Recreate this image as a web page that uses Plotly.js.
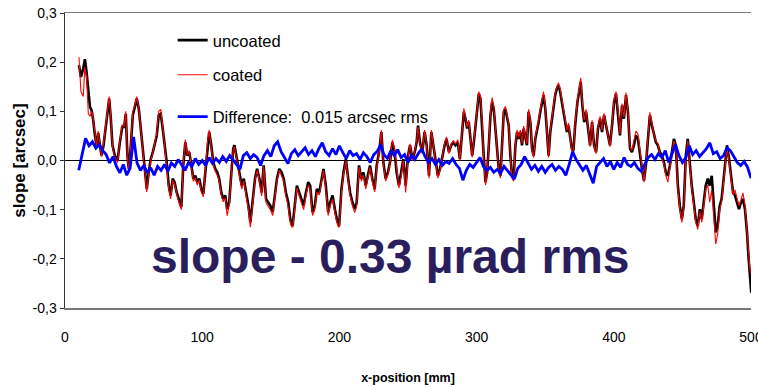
<!DOCTYPE html>
<html>
<head>
<meta charset="utf-8">
<script src="https://cdn.plot.ly/plotly-3.0.1.min.js"></script>
<style>
  html, body { margin: 0; padding: 0; background: #ffffff; }
  #chart { width: 758px; height: 387px; }
</style>
</head>
<body>
<div id="chart"></div>
<script>
// Mirror slope profile along the x-position, before and after coating (arcsec).
const xPos = [
  10.2,11.6,13.3,14.5,15.7,17.0,18.2,19.4,20.6,21.8,23.0,24.2,25.4,26.6,28.1,29.6,31.0,32.2,33.4,34.6,
  36.3,38.3,40.0,41.7,43.1,44.3,45.5,46.5,48.0,49.4,50.9,52.3,53.8,55.2,56.7,58.1,59.6,61.0,62.5,64.0,
  65.4,66.9,68.3,69.8,71.2,72.7,74.1,75.6,77.0,78.5,79.9,81.4,82.8,84.8,86.2,87.7,89.1,90.6,92.1,93.5,
  95.0,96.4,97.9,99.3,100.8,102.2,103.7,105.1,106.6,108.0,109.5,111.0,112.4,113.9,115.3,116.8,118.2,119.7,121.1,122.6,
  123.5,125.4,127.1,128.8,130.3,132.0,133.7,135.1,136.8,138.5,140.0,141.7,143.4,144.8,146.5,148.2,149.7,151.4,153.1,154.5,
  156.2,157.9,159.4,161.0,162.7,164.2,165.9,167.6,169.0,170.7,172.4,173.9,175.6,177.3,178.7,180.4,182.1,183.6,185.3,187.0,
  188.4,190.1,191.8,193.3,195.0,196.7,198.1,199.8,201.5,203.0,204.7,206.4,207.8,209.5,211.2,212.6,214.3,216.0,217.5,219.2,
  220.9,222.3,224.0,225.7,227.2,228.9,230.6,232.0,233.7,235.4,236.9,238.6,240.3,241.7,243.4,245.1,246.6,
  248.3,250.0,251.5,253.2,254.9,256.3,257.3,258.7,260.4,262.1,263.6,265.3,267.0,268.4,270.1,271.8,273.3,275.0,276.7,278.1,
  279.8,281.5,283.0,284.6,286.3,287.8,289.5,290.7,291.9,293.1,294.3,295.5,296.8,298.0,299.2,300.4,301.6,302.8,304.0,305.2,
  306.5,307.7,308.9,310.1,311.3,312.5,313.7,314.9,316.1,317.4,318.6,319.8,321.0,322.2,323.4,324.6,325.8,327.0,328.3,329.5,
  330.7,331.9,333.1,334.3,335.5,336.7,337.9,339.2,340.4,341.6,342.8,344.0,345.2,346.4,347.6,348.8,350.1,351.3,352.5,353.7,
  354.9,356.1,357.3,358.5,359.7,360.9,362.2,363.4,364.6,365.8,367.0,368.2,369.4,
  370.6,371.8,373.5,375.0,375.9,377.1,378.4,379.8,381.3,382.7,384.2,385.6,387.1,388.5,390.0,391.4,392.9,394.3,395.8,397.2,
  398.7,400.2,401.6,403.1,404.5,406.0,407.4,408.9,410.3,411.8,413.2,414.7,416.1,417.6,419.1,420.5,422.0,423.4,424.9,426.3,
  427.8,429.2,430.7,432.1,433.6,435.0,436.5,437.9,439.4,440.9,442.3,443.8,445.2,446.7,448.1,449.6,451.0,452.5,453.9,455.4,
  456.8,458.3,459.7,461.2,462.7,464.1,465.6,467.0,468.5,469.9,471.4,472.8,474.3,475.7,477.2,478.6,480.1,481.5,482.5,484.0,
  485.4,486.9,488.3,489.8,491.2,492.7,494.1,495.6,497.1,498.3,499.2,500.2
];

const uncoated = [
  0.194,0.170,0.187,0.206,0.180,0.133,0.109,0.102,0.082,0.051,0.031,0.056,0.031,0.010,0.031,0.071,0.105,0.126,0.085,0.031,
  0.010,0.000,0.037,0.068,0.068,0.095,0.010,-0.017,0.031,0.092,0.109,0.126,0.105,0.065,0.031,-0.010,-0.058,-0.024,0.003,0.017,
  0.031,0.051,0.092,0.095,0.065,0.031,-0.003,-0.051,-0.071,-0.037,-0.044,-0.065,-0.078,-0.095,-0.010,0.037,0.010,0.017,-0.010,-0.037,
  -0.031,-0.044,-0.037,-0.058,-0.068,-0.024,0.031,0.058,0.031,-0.003,-0.017,-0.024,-0.037,-0.065,-0.078,-0.071,-0.099,-0.085,-0.031,0.024,
  0.031,0.003,-0.024,-0.051,-0.037,-0.065,-0.092,-0.126,-0.078,-0.037,-0.017,-0.037,-0.065,-0.010,-0.078,-0.085,-0.092,-0.105,-0.065,-0.037,
  -0.017,-0.024,-0.037,-0.065,-0.085,-0.119,-0.133,-0.085,-0.051,-0.065,-0.078,-0.092,-0.065,-0.044,-0.051,-0.105,-0.092,-0.058,-0.065,-0.037,
  -0.017,-0.051,-0.105,-0.085,-0.071,-0.099,-0.119,-0.133,-0.058,-0.024,0.003,-0.037,-0.065,-0.085,-0.099,-0.085,-0.010,-0.037,-0.024,-0.051,
  -0.024,-0.010,-0.037,-0.058,-0.010,0.017,0.058,-0.003,-0.037,-0.024,-0.003,0.037,0.017,-0.024,-0.051,-0.024,0.003,
  -0.051,0.010,0.031,0.003,0.017,0.037,0.071,0.037,0.017,0.058,0.031,-0.031,0.058,0.031,-0.003,-0.031,-0.017,0.010,0.031,0.044,
  0.017,0.031,0.037,0.031,0.037,0.003,0.058,0.099,0.085,0.065,0.078,0.044,0.010,0.037,0.071,0.112,0.136,0.126,0.078,0.010,
  -0.044,-0.024,0.031,0.092,0.119,0.105,0.065,0.017,-0.017,-0.031,0.031,0.099,0.105,0.085,0.071,0.010,-0.031,-0.037,0.031,0.058,
  0.044,0.058,0.031,0.065,0.044,0.031,0.099,0.078,0.024,0.010,0.044,0.058,0.078,0.099,0.119,0.133,0.105,0.044,0.010,0.058,
  0.085,0.112,0.133,0.146,0.153,0.140,0.119,0.099,0.078,0.058,0.071,0.044,0.024,
  0.020,0.071,0.119,0.146,0.160,0.112,0.078,0.099,0.065,0.031,0.078,0.031,0.017,0.065,0.085,0.058,0.092,0.071,0.051,0.031,
  0.071,0.119,0.136,0.099,0.051,0.112,0.085,0.133,0.099,0.024,0.017,0.031,0.051,0.044,0.010,-0.017,-0.041,-0.010,0.044,0.092,
  0.071,0.051,0.037,0.031,0.017,0.010,-0.003,-0.024,-0.031,-0.010,0.017,0.044,0.031,-0.051,-0.092,-0.119,-0.092,0.010,0.044,-0.010,
  -0.051,-0.085,-0.119,-0.133,-0.099,-0.119,-0.078,-0.051,-0.037,-0.051,-0.031,-0.099,-0.146,-0.133,-0.092,-0.078,-0.037,0.010,0.031,0.003,
  -0.037,-0.065,-0.071,-0.085,-0.099,-0.085,-0.078,-0.099,-0.146,-0.201,-0.241,-0.269
];

const coated = [
  0.210,0.140,0.130,0.190,0.170,0.095,0.090,0.100,0.085,0.055,0.028,0.060,0.028,0.008,0.035,0.075,0.110,0.130,0.088,0.028,
  0.006,-0.004,0.040,0.072,0.070,0.100,0.006,-0.022,0.035,0.098,0.112,0.130,0.106,0.062,0.026,-0.014,-0.064,-0.028,0.000,0.015,
  0.034,0.058,0.100,0.104,0.070,0.028,-0.008,-0.058,-0.078,-0.040,-0.048,-0.070,-0.084,-0.100,-0.006,0.042,0.012,0.020,-0.014,-0.042,
  -0.036,-0.050,-0.040,-0.064,-0.074,-0.020,0.034,0.062,0.028,-0.008,-0.022,-0.030,-0.042,-0.070,-0.084,-0.076,-0.112,-0.090,-0.034,0.022,
  0.028,-0.002,-0.030,-0.058,-0.042,-0.072,-0.100,-0.136,-0.084,-0.040,-0.020,-0.042,-0.072,-0.012,-0.086,-0.094,-0.100,-0.112,-0.070,-0.040,
  -0.020,-0.030,-0.042,-0.072,-0.094,-0.128,-0.140,-0.092,-0.056,-0.072,-0.086,-0.100,-0.072,-0.050,-0.058,-0.112,-0.100,-0.064,-0.070,-0.042,
  -0.020,-0.058,-0.112,-0.092,-0.078,-0.106,-0.126,-0.140,-0.064,-0.028,0.000,-0.042,-0.072,-0.092,-0.106,-0.092,-0.014,-0.042,-0.030,-0.058,
  -0.030,-0.014,-0.042,-0.064,-0.014,0.014,0.062,-0.006,-0.042,-0.028,-0.006,0.042,0.022,-0.020,-0.056,-0.030,0.000,
  -0.065,0.006,0.034,0.000,0.020,0.040,0.068,0.034,0.014,0.062,0.028,-0.036,0.062,0.034,-0.006,-0.036,-0.020,0.012,0.036,0.048,
  0.014,0.034,0.040,0.034,0.042,0.000,0.062,0.106,0.088,0.068,0.082,0.040,0.006,0.040,0.076,0.118,0.140,0.130,0.082,0.006,
  -0.050,-0.028,0.036,0.098,0.128,0.110,0.068,0.014,-0.022,-0.036,0.034,0.104,0.110,0.090,0.074,0.006,-0.036,-0.042,0.034,0.062,
  0.048,0.062,0.034,0.070,0.048,0.034,0.104,0.082,0.020,0.006,0.048,0.062,0.082,0.104,0.124,0.140,0.110,0.048,0.006,0.062,
  0.090,0.118,0.138,0.150,0.158,0.146,0.124,0.104,0.082,0.062,0.076,0.048,0.020,
  0.016,0.076,0.124,0.155,0.168,0.118,0.082,0.104,0.068,0.028,0.082,0.028,0.014,0.068,0.090,0.062,0.096,0.074,0.054,0.028,
  0.074,0.124,0.140,0.104,0.054,0.116,0.088,0.138,0.102,0.028,0.020,0.040,0.060,0.054,0.020,-0.012,-0.044,-0.006,0.050,0.098,
  0.076,0.054,0.040,0.034,0.014,0.006,-0.008,-0.030,-0.044,-0.016,0.012,0.040,0.026,-0.058,-0.098,-0.126,-0.098,0.004,0.040,-0.016,
  -0.058,-0.092,-0.126,-0.140,-0.104,-0.126,-0.084,-0.058,-0.050,-0.085,-0.060,-0.112,-0.170,-0.150,-0.100,-0.084,-0.042,0.006,0.026,-0.002,
  -0.042,-0.070,-0.060,-0.080,-0.092,-0.080,-0.066,-0.090,-0.140,-0.190,-0.222,-0.230
];

// Difference profile, sampled every 2.5 mm from 10 mm.
const diffStart = 10;
const diffStep = 2.5;
const difference = [
  -0.020,0.015,0.045,0.030,0.038,0.025,0.032,0.020,0.012,-0.005,
  0.008,-0.012,-0.025,-0.008,-0.030,-0.015,0.048,-0.005,-0.020,-0.010,
  -0.025,-0.015,-0.030,-0.012,-0.020,-0.008,-0.022,-0.005,-0.012,0.002,
  -0.010,-0.020,-0.004,-0.012,0.004,-0.008,0.000,-0.010,0.006,-0.006,
  0.004,-0.004,0.008,-0.002,0.010,0.002,-0.008,-0.018,0.010,0.016,
  0.004,0.012,0.006,-0.010,0.010,0.020,0.008,0.030,0.038,0.018,
  0.006,-0.006,0.014,0.022,0.010,0.018,0.026,0.012,0.020,0.008,
  0.024,0.036,0.018,0.010,0.024,0.012,0.030,0.016,0.004,0.020,
  0.010,0.014,0.002,0.016,0.008,-0.004,0.012,0.018,0.032,0.012,
  0.004,0.020,0.010,0.022,0.006,0.012,-0.004,0.010,0.002,0.014,
  0.024,0.008,-0.004,0.004,-0.008,0.002,-0.010,-0.002,-0.006,0.004,
  -0.008,-0.016,-0.040,-0.020,-0.008,-0.014,-0.004,0.006,-0.012,-0.020,
  -0.014,-0.024,-0.018,-0.026,-0.012,-0.020,-0.030,-0.038,-0.016,-0.008,
  0.008,-0.006,-0.018,-0.010,-0.022,-0.012,-0.024,-0.014,-0.008,-0.020,
  -0.012,-0.018,-0.030,-0.008,0.018,0.002,-0.008,-0.020,-0.010,-0.030,
  -0.046,-0.012,-0.004,0.004,-0.012,-0.002,-0.018,-0.004,-0.014,0.006,
  -0.008,-0.012,-0.004,-0.016,-0.022,-0.008,0.006,0.012,0.002,0.014,
  0.006,0.020,-0.004,0.014,0.032,0.010,-0.004,0.006,0.030,0.012,
  0.020,0.008,0.016,0.024,0.036,0.014,0.018,0.004,0.010,0.026,
  0.020,0.008,-0.004,-0.010,-0.002,-0.014,-0.036
];

const yTickVals = [-0.3, -0.2, -0.1, 0, 0.1, 0.2, 0.3];
const yTickText = ['-0,3', '-0,2', '-0,1', '0,0', '0,1', '0,2', '0,3'];
const xTickVals = [0, 100, 200, 300, 400, 500];
const xTickText = ['0', '100', '200', '300', '400', '500'];

const SANS = "'Liberation Sans', Arial, sans-serif";

const traces = [
  {
    type: 'scatter', mode: 'lines', name: 'uncoated',
    x: xPos, y: uncoated,
    line: { color: '#000000', width: 2.6 },
    legend: 'legend'
  },
  {
    type: 'scatter', mode: 'lines', name: 'coated',
    x: xPos, y: coated,
    line: { color: '#ff0000', width: 1.1 },
    legend: 'legend2'
  },
  {
    type: 'scatter', mode: 'lines', name: 'Difference:\u00a0 0.015 arcsec rms',
    x0: diffStart, dx: diffStep, y: difference,
    line: { color: '#0000ff', width: 2.8 },
    legend: 'legend3'
  }
];

function legendAt(y) {
  return {
    x: 0.157, xanchor: 'left', y: y, yanchor: 'middle',
    bgcolor: 'rgba(0,0,0,0)', borderwidth: 0,
    font: { family: SANS, size: 16.5, color: '#000000' }
  };
}

const layout = {
  width: 758, height: 387,
  margin: { l: 65, r: 7, t: 13, b: 79 },
  paper_bgcolor: '#ffffff', plot_bgcolor: '#ffffff',
  showlegend: true,
  legend: legendAt(0.907),
  legend2: legendAt(0.790),
  legend3: legendAt(0.648),
  xaxis: {
    range: [0, 500], fixedrange: true,
    showgrid: false, zeroline: false,
    showline: true, mirror: true, linecolor: '#7a7a7a', linewidth: 1.5,
    ticks: '', tickvals: xTickVals, ticktext: xTickText,
    ticklabelstandoff: 16, ticklabeloverflow: 'allow',
    tickfont: { family: SANS, size: 14, color: '#000000' },
    title: {
      text: 'x-position [mm]', standoff: 29,
      font: { family: SANS, size: 12.5, color: '#000000', weight: 'bold' }
    }
  },
  xaxis2: {
    overlaying: 'x', anchor: 'free', position: 0.5,
    range: [0, 500], fixedrange: true,
    showgrid: false, zeroline: false, showline: false,
    ticks: 'outside', ticklen: 4, tickwidth: 1, tickcolor: '#000000',
    tickvals: [100, 200, 300, 400, 500], showticklabels: false
  },
  yaxis: {
    range: [-0.3, 0.3], fixedrange: true,
    showgrid: false,
    zeroline: true, zerolinecolor: '#000000', zerolinewidth: 1.3,
    showline: true, linecolor: '#333333', linewidth: 1.5,
    ticks: 'outside', ticklen: 4, tickcolor: '#333333',
    tickvals: yTickVals, ticktext: yTickText,
    tickfont: { family: SANS, size: 14, color: '#000000' },
    title: {
      text: 'slope [arcsec]', standoff: 2,
      font: { family: SANS, size: 17, color: '#000000', weight: 'bold' }
    }
  },
  annotations: [
    {
      xref: 'paper', yref: 'paper', x: 0.474, y: 0.175,
      xanchor: 'center', yanchor: 'middle',
      text: 'slope - 0.33 µrad rms', showarrow: false,
      bgcolor: '#ffffff', borderpad: 2,
      font: { family: SANS, size: 48, color: '#2b1e5c', weight: 'bold' }
    }
  ]
};

Plotly.newPlot('chart', traces, layout, { displayModeBar: false, staticPlot: true });
</script>
</body>
</html>
